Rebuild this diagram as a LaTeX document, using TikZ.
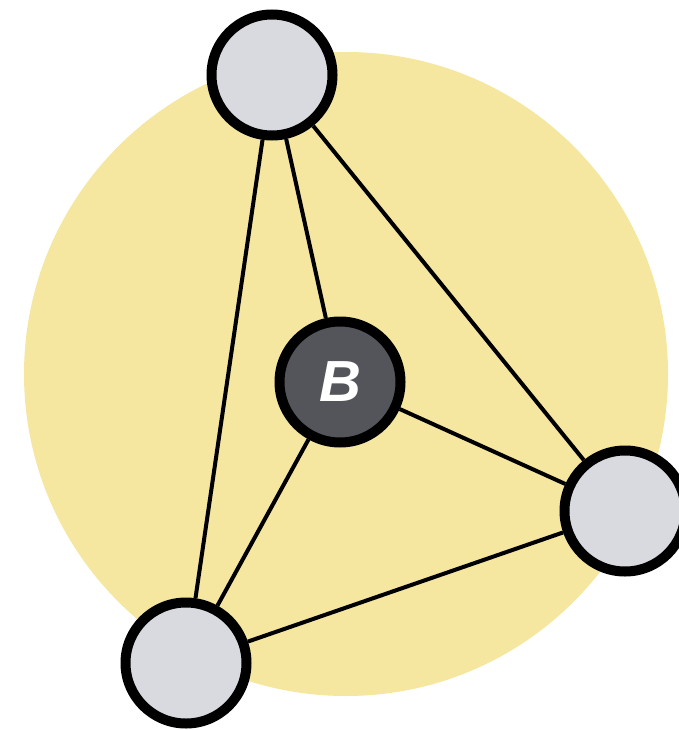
\documentclass[tikz,border=0pt]{standalone}
\usepackage{fontspec}
\setsansfont{Liberation Sans}
\definecolor{bgyellow}{HTML}{F5E6A0}
\definecolor{nodegray}{HTML}{D9DADF}
\definecolor{nodedark}{HTML}{54555B}
\begin{document}
\begin{tikzpicture}[x=1pt,y=-1pt,
  vertex/.style={circle,draw=black,line width=10pt,fill=nodegray,minimum size=121pt,inner sep=0pt},
  hub/.style={vertex,fill=nodedark,text=white,font=\sffamily\bfseries\itshape\fontsize{58}{58}\selectfont},
  link/.style={line width=4pt,draw=black}]
\useasboundingbox (0,0) rectangle (679,730);
\fill[bgyellow] (346,374) circle (322);
\node[vertex] (top) at (272,75) {};
\node[hub] (b) at (340,382) {B};
\node[vertex] (right) at (625,511) {};
\node[vertex] (left) at (186,663) {};
\draw[link] (top) -- (left);
\draw[link] (top) -- (b);
\draw[link] (top) -- (right);
\draw[link] (b) -- (right);
\draw[link] (b) -- (left);
\draw[link] (left) -- (right);
\end{tikzpicture}
\end{document}
